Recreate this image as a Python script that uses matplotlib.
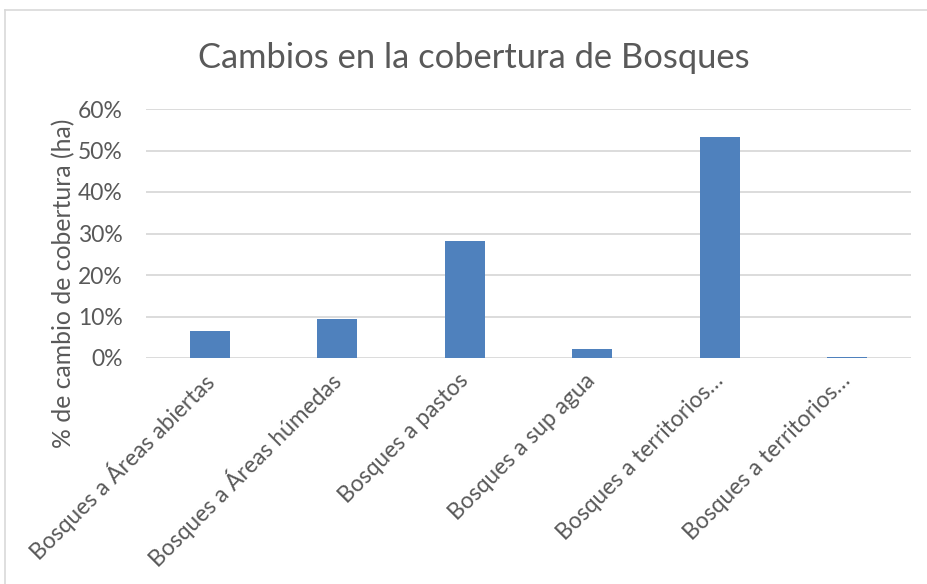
import matplotlib
matplotlib.use("Agg")
import matplotlib.pyplot as plt
from matplotlib.ticker import PercentFormatter
from matplotlib.lines import Line2D

categories = ["Bosques a Áreas abiertas", "Bosques a Áreas húmedas", "Bosques a pastos",
              "Bosques a sup agua", "Bosques a territorios…", "Bosques a territorios…"]
values = [0.065, 0.094, 0.282, 0.022, 0.532, 0.003]
yticks = [0.0, 0.1, 0.2, 0.3, 0.4, 0.5, 0.6]

TEXT = "#595959"
GRID = "#D9D9D9"
BAR = "#4F81BD"
plt.rcParams["font.family"] = ["Lato", "DejaVu Sans"]

W, H = 927, 584
fig = plt.figure(figsize=(W / 100, H / 100), dpi=100)

# chart-area border (top and left edges visible in the reference)
fig.add_artist(Line2D([5 / W, 5 / W], [0, 1 - 10 / H], color=GRID, lw=1.2))
fig.add_artist(Line2D([5 / W, 1], [1 - 10 / H, 1 - 10 / H], color=GRID, lw=1.2))

ax = fig.add_axes([146 / W, 1 - 358 / H, 765 / W, 249 / H])
x = range(len(categories))
ax.bar(x, values, width=0.31, color=BAR, zorder=3)
ax.set_xlim(-0.5, len(categories) - 0.5)
ax.set_ylim(0, 0.6)
ax.set_yticks(yticks)
ax.yaxis.set_major_formatter(PercentFormatter(1.0, decimals=0))
ax.grid(axis="y", color=GRID, lw=1.3, zorder=0)
for s in ax.spines.values():
    s.set_visible(False)
ax.tick_params(axis="y", length=0, colors=TEXT, labelsize=16.5, pad=17)
ax.set_xticks(list(x))
ax.set_xticklabels(categories, rotation=45, ha="right", va="center",
                   rotation_mode="anchor", fontsize=16.4, color=TEXT)
ax.tick_params(axis="x", length=0, pad=14)
ax.set_ylabel("% de cambio de cobertura (ha)", fontsize=17.8, color=TEXT)
ax.yaxis.set_label_coords(-0.093, 0.30)

fig.text(474 / W, 1 - 58 / H, "Cambios en la cobertura de Bosques", fontsize=24.8,
         color=TEXT, ha="center", va="center")

fig.savefig("out.png", dpi=100, facecolor="white")
